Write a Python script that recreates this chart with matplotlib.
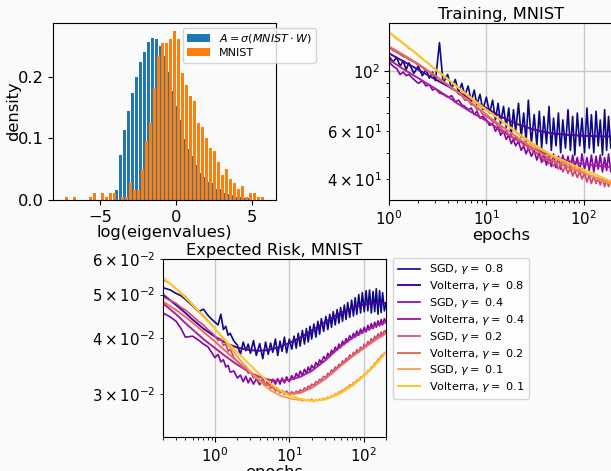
import numpy as np
import matplotlib
matplotlib.use("Agg")
import matplotlib.pyplot as plt
from matplotlib.ticker import LogFormatterSciNotation

# ---------------- histogram data ----------------
BIN_W = 0.2637
BLUE_EDGE0 = -4.067
ORANGE_EDGE0 = -7.362
BLUE_DENS = [0.016, 0.073, 0.113, 0.144, 0.173, 0.200, 0.223, 0.240, 0.256, 0.263,
             0.260, 0.250, 0.234, 0.207, 0.177, 0.153, 0.129, 0.0995, 0.083, 0.071,
             0.056, 0.044, 0.037, 0.029, 0.027, 0.018, 0.018, 0.011, 0.009, 0.008,
             0.005, 0.005, 0.003, 0.003]
ORANGE_DENS = [0.0053, 0.0, 0.0053, 0.0, 0.0, 0.0, 0.0053, 0.0118, 0.0, 0.0118,
               0.0053, 0.0118, 0.0118, 0.0, 0.0053, 0.0053, 0.028, 0.0166, 0.0166, 0.0505,
               0.096, 0.125, 0.181, 0.233, 0.255, 0.255, 0.260, 0.273, 0.260, 0.205,
               0.187, 0.169, 0.160, 0.124, 0.119, 0.101, 0.084, 0.079, 0.061, 0.040,
               0.050, 0.034, 0.027, 0.018, 0.023, 0.005, 0.011, 0.011, 0.005, 0.005]
HIST_LABELS = [r'$A = \sigma(MNIST \cdot W)$', 'MNIST']

# ---------------- curves ----------------
EPOCHS = [0.2, 0.25, 0.3, 0.35, 0.4, 0.5, 0.6, 0.7, 0.8, 0.9,
          1.0, 1.1, 1.2, 1.3, 1.4, 1.5, 1.6, 1.8, 2.0, 2.2,
          2.4, 2.6, 2.8, 3.0, 3.3, 3.6, 4.0, 4.4, 4.8, 5.2,
          5.6, 6.0, 6.5, 7.0, 7.5, 8.0, 8.6, 9.2, 10, 10.8,
          11.6, 12.4, 13.2, 14, 15, 16, 17, 18, 19, 20,
          21.4, 22.8, 24.2, 25.6, 27, 29, 31, 33, 35, 37,
          39, 41.5, 44, 46.5, 49, 52, 55, 58, 61, 65,
          69, 73, 77, 81, 86, 91, 96, 102, 108, 114,
          120, 127, 134, 141, 148, 156, 164, 172, 180, 190,
          200]
TRAIN_START = 10  # training curves start at epoch 1.0

VOLT_EPOCHS = [0.2, 0.3, 0.4, 0.5, 0.7, 1, 1.5, 2, 3, 4, 5, 7, 10, 14, 20, 30, 40,
               50, 70, 100, 140, 200]
VOLT_TRAIN_START = 5

GAMMAS = ['0.8', '0.4', '0.2', '0.1']

# Training loss, SGD (epochs >= 1)
SGD08_TR = [113, 108, 112, 104, 109, 101, 107, 98, 104, 96,
            101, 94, 99, 92, 127, 90, 97, 86, 93, 83,
            90, 81, 88, 77, 85, 75, 82, 72, 80, 70,
            78, 66, 76, 64, 74, 62, 73, 58, 72, 60,
            76, 57, 70, 55, 78, 54, 69, 53, 71, 52,
            68, 54, 74, 51, 67, 53, 70, 50, 66, 52,
            72, 51, 68, 49, 70, 53, 67, 50, 73, 52,
            69, 50, 71, 53, 66, 49, 72, 51, 68, 52,
            64]
SGD04_TR = [108, 104, 102, 97, 99, 96, 97, 93, 90, 92,
            88, 89, 85, 86, 83, 82, 80, 81, 77, 78,
            75, 74, 72, 73, 69, 71, 67, 68, 66, 63,
            64, 60, 62, 58, 60, 56, 58, 54, 56, 53,
            55, 51, 53, 49.5, 52, 48.5, 51, 47, 50, 46,
            50, 45, 49, 44.5, 49.5, 44, 48.5, 43.5, 49, 44,
            48.5, 43, 49, 44, 48, 42.5, 49.5, 43.5, 48, 43,
            49, 42.5, 48.5, 43.5, 49, 42.5, 48, 43, 49.5, 42.5,
            46]
SGD02_TR = [122, 119, 117, 115, 113, 112, 110, 108, 105, 103,
            100, 99, 96, 96, 93, 91, 89, 86, 85, 82,
            81, 78, 78, 75, 75, 72, 72, 69, 68, 67,
            65, 64.5, 62.5, 62, 60, 60, 58, 58, 56.5, 57,
            55, 55, 53, 53.5, 51.5, 51.5, 49.5, 50, 48, 48.5,
            46.5, 48, 45.5, 46.5, 44.5, 46, 43.5, 45, 42.5, 44.5,
            42, 44, 41, 43, 40.5, 42.5, 40, 42, 39, 41.5,
            38.5, 41, 38.5, 40.5, 38, 40.5, 37.5, 40, 37.5, 39.5,
            38]
SGD01_TR = [138, 135, 131, 129, 126, 124, 121, 118, 114, 111,
            108, 106, 103, 101, 98.5, 96, 93, 91, 88.5, 86.5,
            84, 82.5, 80.5, 79, 77, 76, 74, 73, 71.5, 70.5,
            69, 68, 67, 66, 64.5, 63.5, 62.5, 61.5, 60.5, 59.5,
            58.5, 57.5, 56.5, 55.5, 55, 53.5, 53, 52, 51.5, 51,
            50.5, 50, 49, 48.5, 48, 47.5, 47, 46.5, 46, 45.5,
            45, 44.8, 44.2, 44, 43.4, 43.2, 42.6, 42.4, 41.8, 41.6,
            41, 40.8, 40.3, 40.1, 39.7, 39.5, 39.2, 39, 38.7, 38.5,
            38.6]
# Training loss, Volterra (epochs >= 1)
VOL08_TR = [116, 107, 101, 93, 88, 84, 78.5, 73, 68, 64, 61, 59.5, 58.8, 58.1, 57.7, 57.5, 57.4]
VOL04_TR = [110, 100, 94, 86, 80.5, 76, 70.5, 65.5, 60.5, 56, 52, 49.8, 48.3, 46.6, 45.4, 44.7, 44.2]
VOL02_TR = [123, 113, 106, 96, 89, 84, 76.5, 69, 63, 57.5, 52, 48.8, 46.5, 44, 42, 40.2, 38.5]
VOL01_TR = [139, 124, 114, 101.5, 93.5, 87.5, 79.5, 72, 66, 60, 54, 50.7, 48.5, 45.8, 43.3, 41.2, 38.9]

# Expected risk, SGD
SGD08_RK = [0.0518, 0.0512, 0.0503, 0.0497, 0.0488, 0.0472, 0.0458, 0.0464, 0.0450, 0.0441,
            0.0434, 0.0428, 0.0452, 0.0418, 0.0425, 0.0406, 0.0410, 0.0394, 0.0386, 0.0368,
            0.0392, 0.0375, 0.0388, 0.0370, 0.0395, 0.0366, 0.0389, 0.0360, 0.0392, 0.0368,
            0.0390, 0.0372, 0.0398, 0.0366, 0.0394, 0.0374, 0.0402, 0.0371, 0.0398, 0.0378,
            0.0404, 0.0380, 0.0410, 0.0384, 0.0416, 0.0388, 0.0420, 0.0392, 0.0425, 0.0398,
            0.0430, 0.0402, 0.0436, 0.0408, 0.0442, 0.0414, 0.0447, 0.0418, 0.0452, 0.0423,
            0.0458, 0.0428, 0.0463, 0.0432, 0.0468, 0.0436, 0.0474, 0.0440, 0.0480, 0.0445,
            0.0486, 0.0448, 0.0492, 0.0452, 0.0500, 0.0455, 0.0505, 0.0458, 0.0510, 0.0460,
            0.0512, 0.0455, 0.0508, 0.0458, 0.0515, 0.0452, 0.0510, 0.0456, 0.0505, 0.0460,
            0.0478]
SGD04_RK = [0.0455, 0.0446, 0.0436, 0.0420, 0.0402, 0.0404, 0.0396, 0.0388, 0.0383, 0.0372,
            0.0362, 0.0368, 0.0354, 0.0358, 0.0345, 0.0348, 0.0336, 0.0338, 0.0326, 0.0331,
            0.0320, 0.0329, 0.0318, 0.0326, 0.0316, 0.0325, 0.0315, 0.0324, 0.0314, 0.0323,
            0.0315, 0.0324, 0.0316, 0.0325, 0.0316, 0.0326, 0.0318, 0.0328, 0.0320, 0.0330,
            0.0324, 0.0334, 0.0327, 0.0338, 0.0330, 0.0341, 0.0334, 0.0345, 0.0337, 0.0348,
            0.0342, 0.0353, 0.0347, 0.0358, 0.0352, 0.0364, 0.0358, 0.0370, 0.0364, 0.0376,
            0.0370, 0.0382, 0.0376, 0.0388, 0.0381, 0.0394, 0.0387, 0.0399, 0.0393, 0.0405,
            0.0398, 0.0410, 0.0402, 0.0415, 0.0406, 0.0419, 0.0410, 0.0423, 0.0413, 0.0427,
            0.0417, 0.0431, 0.0420, 0.0434, 0.0423, 0.0437, 0.0426, 0.0440, 0.0428, 0.0442,
            0.0436]
SGD02_RK = [0.0494, 0.0485, 0.0478, 0.0468, 0.0462, 0.0448, 0.0436, 0.0428, 0.0418, 0.0412,
            0.0404, 0.0395, 0.0398, 0.0385, 0.0388, 0.0374, 0.0378, 0.0362, 0.0355, 0.0350,
            0.0342, 0.0345, 0.0334, 0.0337, 0.0326, 0.0330, 0.0320, 0.0323, 0.0314, 0.0318,
            0.0309, 0.0313, 0.0305, 0.0309, 0.0302, 0.0306, 0.0300, 0.0305, 0.0299, 0.0304,
            0.0300, 0.0305, 0.0302, 0.0307, 0.0304, 0.0310, 0.0307, 0.0313, 0.0310, 0.0316,
            0.0314, 0.0320, 0.0318, 0.0324, 0.0322, 0.0329, 0.0327, 0.0334, 0.0332, 0.0340,
            0.0337, 0.0345, 0.0342, 0.0350, 0.0347, 0.0356, 0.0353, 0.0361, 0.0358, 0.0367,
            0.0363, 0.0372, 0.0368, 0.0377, 0.0372, 0.0382, 0.0377, 0.0388, 0.0382, 0.0393,
            0.0388, 0.0399, 0.0393, 0.0404, 0.0398, 0.0409, 0.0402, 0.0413, 0.0405, 0.0416,
            0.0412]
SGD01_RK = [0.0540, 0.0528, 0.0515, 0.0504, 0.0495, 0.0476, 0.0460, 0.0449, 0.0438, 0.0429,
            0.0420, 0.0412, 0.0405, 0.0398, 0.0392, 0.0386, 0.0381, 0.0372, 0.0364, 0.0357,
            0.0351, 0.0346, 0.0341, 0.0337, 0.0331, 0.0326, 0.0321, 0.0316, 0.0312, 0.0309,
            0.0306, 0.0304, 0.0302, 0.0300, 0.0298, 0.0297, 0.0296, 0.0295, 0.0294, 0.0293,
            0.0292, 0.0293, 0.0291, 0.0292, 0.0290, 0.0292, 0.0290, 0.0292, 0.0290, 0.0293,
            0.0289, 0.0292, 0.0290, 0.0293, 0.0291, 0.0294, 0.0292, 0.0296, 0.0294, 0.0298,
            0.0297, 0.0301, 0.0300, 0.0304, 0.0303, 0.0307, 0.0306, 0.0311, 0.0310, 0.0315,
            0.0314, 0.0319, 0.0318, 0.0323, 0.0322, 0.0328, 0.0327, 0.0333, 0.0333, 0.0339,
            0.0339, 0.0345, 0.0346, 0.0352, 0.0353, 0.0359, 0.0360, 0.0366, 0.0366, 0.0371,
            0.0372]
# Expected risk, Volterra
VOL08_RK = [0.0500, 0.0474, 0.0455, 0.0440, 0.0420, 0.0403, 0.0388, 0.0381, 0.0376, 0.0375, 0.0376,
            0.0381, 0.0390, 0.0401, 0.0416, 0.0434, 0.0447, 0.0456, 0.0467, 0.0475, 0.0478, 0.0479]
VOL04_RK = [0.0478, 0.0452, 0.0432, 0.0418, 0.0398, 0.0380, 0.0361, 0.0349, 0.0335, 0.0328, 0.0324,
            0.0321, 0.0323, 0.0328, 0.0338, 0.0356, 0.0372, 0.0384, 0.0400, 0.0414, 0.0425, 0.0434]
VOL02_RK = [0.0482, 0.0462, 0.0446, 0.0433, 0.0413, 0.0393, 0.0370, 0.0355, 0.0336, 0.0323, 0.0315,
            0.0306, 0.0301, 0.0302, 0.0310, 0.0324, 0.0337, 0.0348, 0.0364, 0.0380, 0.0395, 0.0410]
VOL01_RK = [0.0545, 0.0515, 0.0492, 0.0474, 0.0446, 0.0420, 0.0390, 0.0372, 0.0348, 0.0332, 0.0322,
            0.0308, 0.0298, 0.0293, 0.0290, 0.0292, 0.0297, 0.0302, 0.0313, 0.0329, 0.0347, 0.0371]

SGD_TR = [SGD08_TR, SGD04_TR, SGD02_TR, SGD01_TR]
VOL_TR = [VOL08_TR, VOL04_TR, VOL02_TR, VOL01_TR]
SGD_RK = [SGD08_RK, SGD04_RK, SGD02_RK, SGD01_RK]
VOL_RK = [VOL08_RK, VOL04_RK, VOL02_RK, VOL01_RK]

# ---------------- style ----------------
BG = '#fafafa'
TXT = 11.7
LOGTICK = 10.8
plt.rcParams['font.family'] = ['DejaVu Sans']
plt.rcParams['font.size'] = TXT
plt.rcParams['axes.titlesize'] = TXT
plt.rcParams['axes.labelsize'] = TXT
plt.rcParams['xtick.labelsize'] = TXT
plt.rcParams['ytick.labelsize'] = TXT

colors = plt.cm.plasma(np.linspace(0, 0.88, 8))

fig = plt.figure(figsize=(6.11, 4.71), dpi=100, facecolor=BG)

W, H = 611.0, 471.0
def axrect(l, t, r, b):
    return [l / W, 1 - b / H, (r - l) / W, (b - t) / H]

# ---------------- histogram ----------------
axh = fig.add_axes(axrect(53, 23, 276, 200), facecolor=BG)
blue_edges = BLUE_EDGE0 + BIN_W * np.arange(len(BLUE_DENS) + 1)
orange_edges = ORANGE_EDGE0 + BIN_W * np.arange(len(ORANGE_DENS) + 1)
blue_centers = 0.5 * (blue_edges[:-1] + blue_edges[1:])
orange_centers = 0.5 * (orange_edges[:-1] + orange_edges[1:])
axh.hist(blue_centers, bins=blue_edges, weights=BLUE_DENS, rwidth=0.75,
         color='#1f77b4', label=HIST_LABELS[0])
axh.hist(orange_centers, bins=orange_edges, weights=ORANGE_DENS, rwidth=0.75,
         color='#ff7f0e', label=HIST_LABELS[1])
axh.set_xlim(-8.1, 6.6)
axh.set_xticks([-5, 0, 5])
axh.set_yticks([0.0, 0.1, 0.2])
axh.set_xlabel('log(eigenvalues)', labelpad=0)
axh.set_ylabel('density')
axh.yaxis.set_label_coords(-0.142, 0.5)
axh.legend(loc='upper left', bbox_to_anchor=(183 / W, 1 - 28 / H),
           bbox_transform=fig.transFigure, borderaxespad=0, frameon=True,
           facecolor='white', framealpha=0.8, fontsize=8.0,
           handlelength=2.0, labelspacing=0.25)

# ---------------- training ----------------
axt = fig.add_axes(axrect(389, 23, 613, 200), facecolor=BG)
ep_tr = EPOCHS[TRAIN_START:]
vep_tr = VOLT_EPOCHS[VOLT_TRAIN_START:]
for i in range(4):
    axt.plot(ep_tr, SGD_TR[i], color=colors[2 * i], lw=1.2)
    axt.plot(vep_tr, VOL_TR[i], color=colors[2 * i + 1], lw=1.4)
axt.set_xscale('log')
axt.set_yscale('log')
axt.set_xlim(1, 200)
axt.set_ylim(33.5, 150)
axt.tick_params(which='both', labelsize=LOGTICK)
axt.grid(True, which='major', color='#c8c8c8', lw=1.0)
axt.set_title('Training, MNIST', pad=3)
axt.set_xlabel('epochs', labelpad=0)

# ---------------- expected risk ----------------
axr = fig.add_axes(axrect(163, 259, 386, 437), facecolor=BG)
handles = []
for i in range(4):
    h1, = axr.plot(EPOCHS, SGD_RK[i], color=colors[2 * i], lw=1.2,
                   label=r'SGD, $\gamma =$ ' + GAMMAS[i])
    h2, = axr.plot(VOLT_EPOCHS, VOL_RK[i], color=colors[2 * i + 1], lw=1.4,
                   label=r'Volterra, $\gamma =$ ' + GAMMAS[i])
    handles += [h1, h2]
axr.set_xscale('log')
axr.set_yscale('log')
axr.set_xlim(0.2, 200)
axr.set_ylim(0.0241, 0.0600)
axr.yaxis.set_minor_formatter(LogFormatterSciNotation(labelOnlyBase=False,
                                                      minor_thresholds=(2, 0.5)))
axr.tick_params(which='both', labelsize=LOGTICK)
axr.grid(True, which='major', color='#c8c8c8', lw=1.0)
axr.set_title('Expected Risk, MNIST', pad=3)
axr.set_xlabel('epochs', labelpad=0)
axr.legend(handles=handles, loc='upper left', bbox_to_anchor=(393 / W, 1 - 258 / H),
           bbox_transform=fig.transFigure, borderaxespad=0, frameon=True,
           facecolor='white', framealpha=0.8, fontsize=8.1, labelspacing=0.25)

fig.savefig('out.png', dpi=100, facecolor=BG)
